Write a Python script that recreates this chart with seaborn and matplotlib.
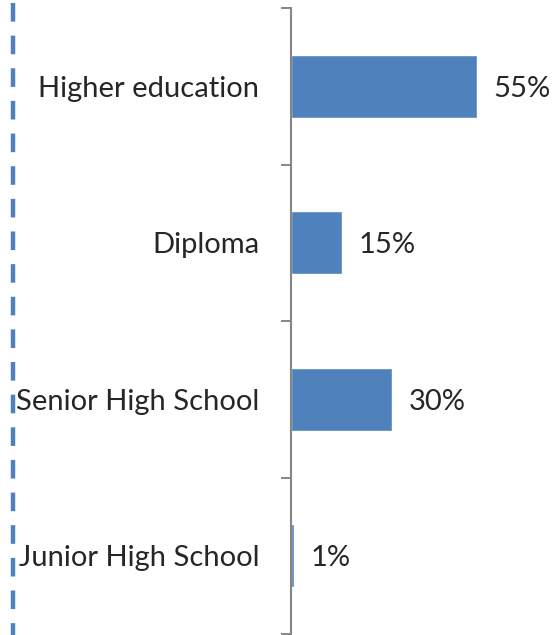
import matplotlib
matplotlib.use("Agg")
import matplotlib.pyplot as plt
from matplotlib.lines import Line2D
import seaborn as sns
import pandas as pd

# Education level shares (%)
levels = ["Higher education", "Diploma", "Senior High School", "Junior High School"]
shares = [55, 15, 30, 1]
value_labels = ["55%", "15%", "30%", "1%"]

sns.set_style("white")
plt.rcParams["font.family"] = ["Lato", "DejaVu Sans"]
plt.rcParams["lines.scale_dashes"] = False

BLUE = "#4F81BD"
GRAY = "#868686"
FS = 21

df = pd.DataFrame({"level": levels, "share": shares})

W, H = 554, 635
fig = plt.figure(figsize=(W / 100, H / 100), dpi=100)
ax = fig.add_axes([291 / W, 1 / H, 1 - 291 / W, (H - 9) / H])

sns.barplot(data=df, x="share", y="level", orient="h", color=BLUE,
            saturation=1, width=0.4, ax=ax, order=levels)

ax.set_xlim(0, 77.8)
ax.set_ylim(len(levels) - 0.5, -0.5)
ax.set_xlabel("")
ax.set_ylabel("")
ax.xaxis.set_visible(False)

# Ticks on category boundaries, labels centred in each band
ax.set_yticks([i - 0.5 for i in range(len(levels) + 1)])
ax.set_yticklabels([])
ax.set_yticks(range(len(levels)), minor=True)
ax.set_yticklabels(levels, minor=True, fontsize=FS)
ax.tick_params(axis="y", which="major", length=7.2, width=1.4, color=GRAY,
               direction="out", left=True)
ax.tick_params(axis="y", which="minor", length=0, pad=23)
for lbl in ax.get_yticklabels(minor=True):
    lbl.set_verticalalignment("center_baseline")

for side in ["top", "right", "bottom"]:
    ax.spines[side].set_visible(False)
ax.spines["left"].set_color(GRAY)
ax.spines["left"].set_linewidth(1.5)

texts = ax.bar_label(ax.containers[0], labels=value_labels, padding=12, fontsize=FS)
for t in texts:
    t.set_verticalalignment("center_baseline")

# Dashed vertical separator on the left edge
fig.add_artist(Line2D([13.3 / W, 13.3 / W], [1 - 3.3 / H, 0],
                      transform=fig.transFigure, color=BLUE, linewidth=3.2,
                      linestyle=(0, (13.4, 10.1)), solid_capstyle="butt",
                      dash_capstyle="butt"))

fig.savefig("out.png", dpi=100)
